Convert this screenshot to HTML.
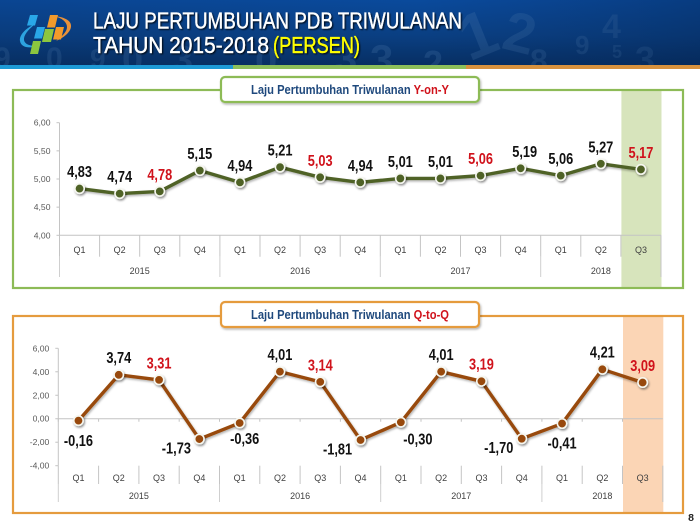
<!DOCTYPE html>
<html lang="id">
<head>
<meta charset="utf-8">
<title>Laju Pertumbuhan PDB Triwulanan</title>
<style>
html,body{margin:0;padding:0;background:#fff;width:700px;height:525px;overflow:hidden}
svg{display:block;font-family:"Liberation Sans",Arial,sans-serif}
</style>
</head>
<body>
<svg id="slide" xmlns="http://www.w3.org/2000/svg" width="700" height="525" viewBox="0 0 700 525">
<defs>
<linearGradient id="hdr" x1="0" y1="0" x2="0" y2="1">
<stop offset="0" stop-color="#0a4a9c"/><stop offset=".55" stop-color="#0a3f82"/><stop offset="1" stop-color="#072f63"/>
</linearGradient>
<linearGradient id="hdrR" x1="0" y1="0" x2="1" y2="0">
<stop offset="0" stop-color="#0a2a5a" stop-opacity=".15"/><stop offset=".6" stop-color="#0a2a5a" stop-opacity="0"/><stop offset="1" stop-color="#04214d" stop-opacity=".35"/>
</linearGradient>
<clipPath id="hdrClip"><rect x="0" y="0" width="700" height="65"/></clipPath>
<filter id="sh" x="-40%" y="-40%" width="200%" height="200%"><feDropShadow dx="1" dy="1.5" stdDeviation="1" flood-color="#000" flood-opacity=".45"/></filter>
<filter id="lsh" x="-5%" y="-20%" width="110%" height="140%"><feDropShadow dx="1" dy="1.5" stdDeviation="1" flood-color="#000" flood-opacity=".3"/></filter>
<filter id="tsh" x="-5%" y="-20%" width="110%" height="140%"><feDropShadow dx="1.2" dy="1.2" stdDeviation=".7" flood-color="#000" flood-opacity=".8"/></filter>
</defs>

<g>
<rect x="0" y="0" width="700" height="65" fill="url(#hdr)"/>
<g clip-path="url(#hdrClip)">
<g fill="#5f8cbc" opacity=".2" font-weight="bold">
<text x="-6" y="68" font-size="30">9</text><text x="46" y="68" font-size="30">0</text><text x="90" y="68" font-size="28">9</text>
<text x="122" y="72" font-size="38">0</text><text x="172" y="72" font-size="38">3</text><text x="255" y="74" font-size="40">0</text>
<text x="335" y="72" font-size="40">3</text><text x="370" y="74" font-size="42">3</text><text x="423" y="76" font-size="36">2</text>
<text x="462" y="56" font-size="64" transform="rotate(-22 480 40)">1</text>
<text x="505" y="52" font-size="56" transform="rotate(14 520 30)">2</text>
<text x="530" y="72" font-size="32">8</text><text x="575" y="54" font-size="26">9</text><text x="602" y="38" font-size="34">4</text>
<text x="612" y="58" font-size="18">5</text><text x="635" y="72" font-size="36">3</text>
</g>
</g>
<rect x="0" y="0" width="700" height="65" fill="url(#hdrR)"/>
<rect x="0" y="65" width="233" height="4" fill="#1d9ad6"/>
<rect x="233" y="65" width="233" height="4" fill="#8cbf5a"/>
<rect x="466" y="65" width="234" height="4" fill="#d8923e"/>
<g>
<path d="M54 16C65 17 72 21 71 27C70 33 63 38 56 41C62 36 67 32 67 27C67 22 62 18 54 16Z" fill="#e8913a"/>
<path d="M35 24C26 28 19 35 20 41C21 47 28 49 38 46C31 46 25 45 24 40C23.500 35 28 30 35 24Z" fill="#2da3e0"/>
<polygon points="30,15 38,15 35,25.500 27,25.500" fill="#29a7e8"/>
<polygon points="37,27 45,27 42,38.500 34,38.500" fill="#29a7e8"/>
<polygon points="50,15 58,15 55,27.500 47,27.500" fill="#f39a2b"/>
<polygon points="56,27 64,27 61,39.500 53,39.500" fill="#f39a2b"/>
<polygon points="45,29 54,29 51,42 42,42" fill="#8cc63f"/>
<polygon points="33,41 41,41 38,54 30,54" fill="#8cc63f"/>
</g>
<g font-size="23" font-weight="normal" filter="url(#tsh)" stroke-width=".35">
<text x="93" y="28.500" fill="#fff" stroke="#fff" textLength="369" lengthAdjust="spacingAndGlyphs">LAJU PERTUMBUHAN PDB TRIWULANAN</text>
<text x="93" y="53" fill="#fff" stroke="#fff" textLength="176" lengthAdjust="spacingAndGlyphs">TAHUN 2015-2018</text>
<text x="273" y="53" fill="#ffff00" stroke="#ffff00" textLength="87" lengthAdjust="spacingAndGlyphs">(PERSEN)</text>
</g>
</g>

<g id="top-chart"></g>
<g id="bottom-chart"></g>

<text x="691" y="521" font-size="10.500" font-weight="bold" fill="#222" text-anchor="middle">8</text>
</svg>

<script>
const quarterLabels = ['Q1','Q2','Q3','Q4','Q1','Q2','Q3','Q4','Q1','Q2','Q3','Q4','Q1','Q2','Q3'];
const yearLabels = ['2015','2016','2017','2018'];
const yearQuarterCounts = [4,4,4,3];
const redQuarters = ['Q3'];
const yoyValues = [4.83,4.74,4.78,5.15,4.94,5.21,5.03,4.94,5.01,5.01,5.06,5.19,5.06,5.27,5.17];
const qoqValues = [-0.16,3.74,3.31,-1.73,-0.36,4.01,3.14,-1.81,-0.30,4.01,3.19,-1.70,-0.41,4.21,3.09];
const yoyTicks = [4,4.5,5,5.5,6];
const qoqTicks = [-4,-2,0,2,4,6];

const NS = 'http://www.w3.org/2000/svg';
function make(parent, tag, attrs, text) {
  const el = document.createElementNS(NS, tag);
  for (const k in attrs) el.setAttribute(k, attrs[k]);
  if (text !== undefined) el.textContent = text;
  parent.appendChild(el);
  return el;
}
function fmt(v) { return v.toFixed(2).replace('.', ','); }

function drawPanel(root, cfg) {
  const x = i => cfg.x0 + cfg.step * (i + 0.5);
  const edge = i => cfg.x0 + cfg.step * i;
  const y = v => cfg.yTop + (cfg.yMax - v) / (cfg.yMax - cfg.yMin) * (cfg.yBottom - cfg.yTop);
  const last = cfg.values.length - 1;

  const hl = make(root, 'rect', {x: edge(last) + .5, y: cfg.boxTop, width: cfg.step, height: cfg.boxBottom - cfg.boxTop, fill: cfg.highlight});
  
  

  const frame = make(root, 'rect', {x: 13, y: cfg.boxTop, width: 670, height: cfg.boxBottom - cfg.boxTop, fill: 'none', stroke: cfg.frame, 'stroke-width': 2.2});
  
  

  const badge = make(root, 'rect', {x: 221, y: cfg.badgeTop, width: 258, height: 25, rx: 4, fill: '#fff', stroke: cfg.frame, 'stroke-width': 2.2, filter: 'url(#lsh)'});
  
  
  const title = make(root, 'text', {x: 251, y: cfg.badgeTop + 17, 'font-size': 12.5, 'font-weight': 'bold', fill: '#1f497d', textLength: 198, lengthAdjust: 'spacingAndGlyphs'});
  
  
  make(title, 'tspan', {}, 'Laju Pertumbuhan Triwulanan ');
  make(title, 'tspan', {fill: '#d0121b'}, cfg.suffix);

  const axisColor = '#c4c4c4';
  const yAxis = make(root, 'line', {x1: cfg.x0, x2: cfg.x0, y1: cfg.yTop, y2: cfg.yBottom, stroke: axisColor});
  
  

  cfg.ticks.forEach(t => {
    const mark = make(root, 'line', {x1: cfg.x0 - 3, x2: cfg.x0, y1: y(t), y2: y(t), stroke: axisColor});
    
    
    const lab = make(root, 'text', {x: cfg.x0 - 9, y: y(t) + 3, 'font-size': 8.6, fill: '#595959', 'text-anchor': 'end'}, fmt(t));
    
    
  });

  const base = make(root, 'line', {x1: cfg.x0, x2: edge(last + 1), y1: y(cfg.baseValue), y2: y(cfg.baseValue), stroke: axisColor});
  
  

  quarterLabels.forEach((q, i) => {
    const sep = make(root, 'line', {x1: edge(i), x2: edge(i), y1: cfg.catTop, y2: cfg.qBottom, stroke: axisColor});
    
    
    if (cfg.catTop !== y(cfg.baseValue)) {
      const tick = make(root, 'line', {x1: edge(i), x2: edge(i), y1: y(cfg.baseValue), y2: y(cfg.baseValue) + 3, stroke: axisColor});
      
      
    }
    const lab = make(root, 'text', {x: x(i), y: cfg.qText, 'font-size': 9, fill: '#404040', 'text-anchor': 'middle'}, q);
    
    
  });
  const endLine = make(root, 'line', {x1: edge(last + 1), x2: edge(last + 1), y1: cfg.catTop, y2: cfg.yearBottom, stroke: axisColor});
  
  

  let start = 0;
  yearLabels.forEach((yr, j) => {
    const sep = make(root, 'line', {x1: edge(start), x2: edge(start), y1: cfg.qBottom, y2: cfg.yearBottom, stroke: '#cfcfcf'});
    
    
    const mid = start + yearQuarterCounts[j] / 2;
    const lab = make(root, 'text', {x: edge(mid), y: cfg.yearText, 'font-size': 9, fill: '#404040', 'text-anchor': 'middle'}, yr);
    
    
    start += yearQuarterCounts[j];
  });

  const line = make(root, 'polyline', {points: cfg.values.map((v, i) => x(i) + ',' + y(v)).join(' '), fill: 'none', stroke: cfg.color, 'stroke-width': 3.4, 'stroke-linejoin': 'round', filter: 'url(#lsh)'});
  
  

  cfg.values.forEach((v, i) => {
    const pt = make(root, 'circle', {cx: x(i), cy: y(v), r: 4.7, fill: cfg.color, stroke: '#f6f7f0', 'stroke-width': 1.6, filter: 'url(#sh)'});
    
    
    const off = cfg.labelOffset(v, i);
    const isRed = redQuarters.includes(quarterLabels[i]);
    const lx = x(i) + off[0], ly = y(v) + off[1] + 6;
    const lab = make(root, 'text', {transform: 'translate(' + lx + ',' + ly + ') scale(.8,1)', 'font-size': 16, 'font-weight': 'bold', fill: isRed ? '#d0121b' : '#111', 'text-anchor': 'middle'}, fmt(v));
    
    
  });
}

drawPanel(document.getElementById('top-chart'), {
  values: yoyValues, ticks: yoyTicks, yMin: 4, yMax: 6, baseValue: 4,
  x0: 59.5, step: 40.1, yTop: 122.7, yBottom: 235.3,
  boxTop: 90, boxBottom: 288, badgeTop: 77,
  catTop: 235.3, qBottom: 256.7, yearBottom: 277, qText: 253, yearText: 274,
  color: '#4f6228', frame: '#8dbb57', highlight: '#d7e4bc', suffix: 'Y-on-Y',
  labelOffset: function (v, i) { return [i === 11 ? 4 : 0, -17.5]; }
});

drawPanel(document.getElementById('bottom-chart'), {
  values: qoqValues, ticks: qoqTicks, yMin: -4, yMax: 6, baseValue: 0,
  x0: 58.3, step: 40.3, yTop: 348.3, yBottom: 465.7,
  boxTop: 316, boxBottom: 513, badgeTop: 302,
  catTop: 465.7, qBottom: 484, yearBottom: 502, qText: 481, yearText: 499,
  color: '#984807', frame: '#e59b3e', highlight: '#fbd5b5', suffix: 'Q-to-Q',
  labelOffset: function (v, i) {
    if (v >= 0) return [0, -17.6];
    if (quarterLabels[i] === 'Q4') return [-23, 8.5];
    if (i === 8) return [17, 16];
    return [i === 4 ? 5 : 0, i === 0 ? 19.5 : (i === 12 ? 19 : 15)];
  }
});
</script>
</body>
</html>
